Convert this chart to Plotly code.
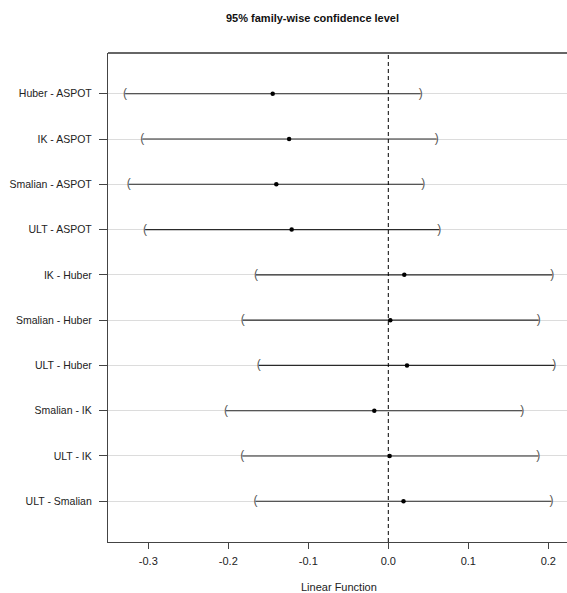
import plotly.graph_objects as go

comparisons = ["Huber - ASPOT", "IK - ASPOT", "Smalian - ASPOT", "ULT - ASPOT",
               "IK - Huber", "Smalian - Huber", "ULT - Huber",
               "Smalian - IK", "ULT - IK", "ULT - Smalian"]
estimate = [-0.1445, -0.124, -0.140, -0.1208, 0.020, 0.0025, 0.0234, -0.0175, 0.0017, 0.019]
lower = [-0.329, -0.3075, -0.3245, -0.304, -0.1654, -0.182, -0.162, -0.203, -0.1825, -0.166]
upper = [0.0405, 0.0605, 0.0438, 0.0638, 0.205, 0.188, 0.2075, 0.1675, 0.1875, 0.204]
x_ticks = [-0.3, -0.2, -0.1, 0.0, 0.1, 0.2]
x_ticktext = ["-0.3", "-0.2", "-0.1", "0.0", "0.1", "0.2"]

n = len(comparisons)
ypos = [n - i for i in range(n)]

FONT = "Liberation Sans, Arial, sans-serif"

fig = go.Figure()

# CI segments
lx, ly = [], []
for lo, up, y in zip(lower, upper, ypos):
    lx += [lo, up, None]
    ly += [y, y, None]
fig.add_trace(go.Scatter(x=lx, y=ly, mode="lines",
                         line=dict(color="#2a2a2a", width=1.1),
                         hoverinfo="skip", showlegend=False))

# brackets
fig.add_trace(go.Scatter(x=lower, y=ypos, mode="text", text=["("] * n,
                         textposition="middle center",
                         textfont=dict(family=FONT, size=12, color="#555555"),
                         showlegend=False, hoverinfo="skip"))
fig.add_trace(go.Scatter(x=upper, y=ypos, mode="text", text=[")"] * n,
                         textposition="middle center",
                         textfont=dict(family=FONT, size=12, color="#555555"),
                         showlegend=False, hoverinfo="skip"))

# estimates
fig.add_trace(go.Scatter(x=estimate, y=ypos, mode="markers",
                         marker=dict(color="black", size=4.5),
                         showlegend=False, hoverinfo="skip"))

# zero dashed line
fig.add_shape(type="line", x0=0, x1=0, y0=0, y1=1, xref="x", yref="paper",
              line=dict(color="black", width=1, dash="4px,3px"), layer="above")
# top border
fig.add_shape(type="line", x0=0, x1=1, y0=1, y1=1, xref="paper", yref="paper",
              line=dict(color="#333333", width=1.3), layer="above")

fig.update_layout(
    width=567, height=593,
    margin=dict(l=108, r=0, t=53, b=51),
    paper_bgcolor="white", plot_bgcolor="white",
    font=dict(family=FONT, size=11, color="#222222"),
    showlegend=False,
    xaxis=dict(range=[-0.3504, 0.2234], tickvals=x_ticks, ticktext=x_ticktext,
               showgrid=False, zeroline=False, showline=True, linecolor="#444444",
               linewidth=1.3, ticks="outside", ticklen=6, tickcolor="#444444",
               tickfont=dict(size=11, color="#222222"), ticklabelstandoff=3),
    yaxis=dict(range=[0.1, 10.9], tickvals=ypos, ticktext=comparisons,
               showgrid=True, gridcolor="#dcdcdc", gridwidth=1, zeroline=False,
               showline=True, linecolor="#444444", linewidth=1.3,
               ticks="outside", ticklen=8, tickcolor="#444444",
               tickfont=dict(size=10.5, color="#222222"), ticklabelstandoff=5),
    annotations=[
        dict(text="<b>95% family-wise confidence level</b>", x=312, y=593 - 18,
             xref="paper", yref="paper", showarrow=False,
             font=dict(size=11, color="#111111")),
        dict(text="Linear Function", x=339, y=593 - 587,
             xref="paper", yref="paper", showarrow=False,
             font=dict(size=11, color="#222222")),
    ],
)

# convert pixel positions of annotations to paper coords
pw = 567 - 108 - 0
ph = 593 - 53 - 51
for a in fig.layout.annotations:
    a.x = (a.x - 108) / pw
    a.y = (a.y - 51) / ph
    a.xanchor = "center"
    a.yanchor = "middle"

fig.write_html("out.html", config={"displayModeBar": False},
               post_script="document.body.style.margin='0';document.body.style.overflow='hidden';")
